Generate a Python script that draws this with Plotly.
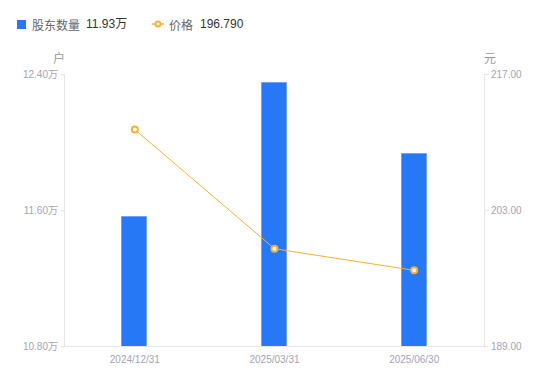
import plotly.graph_objects as go

categories = ["2024/12/31", "2025/03/31", "2025/06/30"]
holders_wan = [11.56, 12.35, 11.93]
price = [211.28, 199.01, 196.79]
left_ticks = [10.80, 11.60, 12.40]
right_ticks = [189.00, 203.00, 217.00]

BLUE = "#2678f5"
ORANGE = "#f7b035"
TICKC = "#a3a3b5"
AXC = "#e6e6ea"
FONT = "Noto Sans CJK SC, Noto Sans, sans-serif"
NUMFONT = "Liberation Sans, Noto Sans CJK SC, sans-serif"

W, H = 550, 381
L, R, T, B = 65, 66, 74, 35
PW, PH = W - L - R, H - T - B


def px(x):
    return (x - L) / PW


def py(y):
    return (H - B - y) / PH


fig = go.Figure()
fig.add_trace(go.Bar(
    x=categories, y=holders_wan, name="股东数量",
    marker=dict(color=BLUE, line=dict(color="#6fa4f7", width=1)),
    width=0.18, yaxis="y",
))
fig.add_trace(go.Scatter(
    x=categories, y=price, mode="lines+markers", name="价格",
    line=dict(color=ORANGE, width=1),
    marker=dict(symbol="circle", size=6, color="white", line=dict(color=ORANGE, width=2)),
    yaxis="y2",
))

annotations = [
    dict(text="户", xref="paper", yref="paper", x=px(59), y=py(57), showarrow=False,
         xanchor="center", yanchor="middle", font=dict(size=12, color="#999999")),
    dict(text="元", xref="paper", yref="paper", x=px(490), y=py(57), showarrow=False,
         xanchor="center", yanchor="middle", font=dict(size=12, color="#999999")),
    dict(text="股东数量", xref="paper", yref="paper", x=px(30), y=py(24), showarrow=False,
         xanchor="left", yanchor="middle", font=dict(size=12, color="#666666", family=FONT)),
    dict(text="%.2f万" % holders_wan[-1], xref="paper", yref="paper", x=px(84), y=py(24),
         showarrow=False, xanchor="left", yanchor="middle",
         font=dict(size=12, color="#333333", family=NUMFONT)),
    dict(text="价格", xref="paper", yref="paper", x=px(167), y=py(24), showarrow=False,
         xanchor="left", yanchor="middle", font=dict(size=12, color="#666666", family=FONT)),
    dict(text="%.3f" % price[-1], xref="paper", yref="paper", x=px(198), y=py(24),
         showarrow=False, xanchor="left", yanchor="middle",
         font=dict(size=12, color="#333333", family=NUMFONT)),
]

shapes = [
    dict(type="rect", xref="paper", yref="paper", x0=px(17), x1=px(26), y0=py(29), y1=py(20),
         fillcolor=BLUE, line=dict(width=0)),
    dict(type="line", xref="paper", yref="paper", x0=px(152), x1=px(164), y0=py(24), y1=py(24),
         line=dict(color=ORANGE, width=1.5)),
    dict(type="circle", xref="paper", yref="paper", x0=px(155.5), x1=px(160.5), y0=py(26.5),
         y1=py(21.5), fillcolor="white", line=dict(color=ORANGE, width=2)),
]

fig.update_layout(
    width=W, height=H,
    margin=dict(l=L, r=R, t=T, b=B),
    plot_bgcolor="white", paper_bgcolor="white",
    font=dict(family=FONT, color="#666666", size=12),
    showlegend=False,
    bargap=0,
    xaxis=dict(showgrid=False, showline=True, linecolor=AXC, linewidth=1,
               ticks="outside", ticklen=4, tickcolor="rgba(0,0,0,0)",
               tickfont=dict(size=10, color=TICKC, family=NUMFONT), zeroline=False),
    yaxis=dict(range=[left_ticks[0], left_ticks[-1]], tickvals=left_ticks,
               ticktext=["%.2f万" % v for v in left_ticks],
               showgrid=False, showline=True, linecolor=AXC, linewidth=1,
               ticks="outside", ticklen=4, tickcolor=AXC,
               tickfont=dict(size=10, color=TICKC, family=NUMFONT), zeroline=False),
    yaxis2=dict(range=[right_ticks[0], right_ticks[-1]], tickvals=right_ticks,
                ticktext=["%.2f" % v for v in right_ticks],
                overlaying="y", side="right",
                showgrid=False, showline=True, linecolor=AXC, linewidth=1,
                ticks="outside", ticklen=4, tickcolor=AXC,
                tickfont=dict(size=10, color=TICKC, family=NUMFONT), zeroline=False),
    annotations=annotations,
    shapes=shapes,
)

fig.write_html("out.html")
